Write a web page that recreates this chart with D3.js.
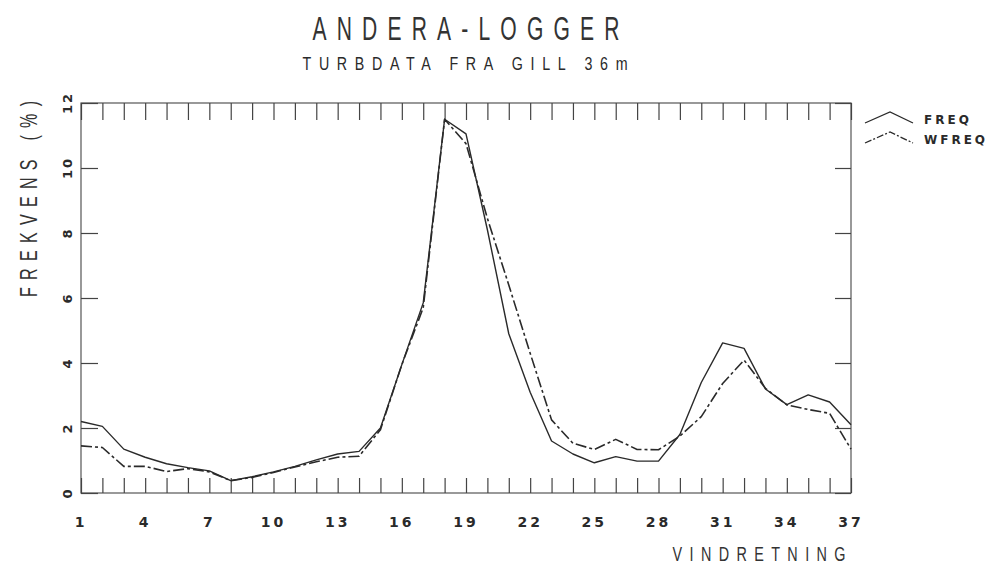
<!DOCTYPE html>
<html>
<head>
<meta charset="utf-8">
<script src="https://cdn.jsdelivr.net/npm/d3@7"></script>
<style>
  html, body { margin: 0; padding: 0; background: #fff; }
  svg { display: block; }
</style>
</head>
<body>
<svg id="chart" width="987" height="565"></svg>
<script>
// ---- data ----
const direction = [1,2,3,4,5,6,7,8,9,10,11,12,13,14,15,16,17,18,19,20,21,22,23,24,25,26,27,28,29,30,31,32,33,34,35,36,37];
const freq  = [2.2,2.05,1.35,1.1,0.9,0.78,0.68,0.38,0.5,0.65,0.82,1.02,1.2,1.28,2.0,3.95,5.85,11.5,11.05,8.1,4.9,3.1,1.6,1.2,0.93,1.12,0.98,0.98,1.8,3.4,4.62,4.45,3.2,2.72,3.02,2.8,2.1];
const wfreq = [1.45,1.4,0.82,0.82,0.66,0.75,0.65,0.38,0.48,0.63,0.8,0.96,1.1,1.13,1.95,3.95,5.7,11.5,10.75,8.45,6.4,4.3,2.25,1.53,1.34,1.65,1.34,1.33,1.75,2.35,3.37,4.09,3.22,2.71,2.57,2.45,1.35];
const xTickLabels = [1,4,7,10,13,16,19,22,25,28,31,34,37];
const yTickLabels = [0,2,4,6,8,10,12];
const seriesNames = ["FREQ","WFREQ"];

const svg = d3.select("#chart");
const ink = "#2a2a2a";

const x = d3.scaleLinear().domain([1,37]).range([81,851]);
const y = d3.scaleLinear().domain([0,12]).range([493,103]);

// frame
svg.append("rect")
  .attr("x", x(1)).attr("y", y(12))
  .attr("width", x(37)-x(1)).attr("height", y(0)-y(12))
  .attr("fill","none").attr("stroke","#555").attr("stroke-width",1.2);

// ticks via d3 axes (inward)
const noLabel = () => "";
const axB = svg.append("g").attr("transform",`translate(0,${y(0)})`)
  .call(d3.axisBottom(x).tickValues(direction).tickSize(-15).tickFormat(noLabel));
const axT = svg.append("g").attr("transform",`translate(0,${y(12)})`)
  .call(d3.axisTop(x).tickValues(direction).tickSize(-17).tickFormat(noLabel));
const axL = svg.append("g").attr("transform",`translate(${x(1)},0)`)
  .call(d3.axisLeft(y).tickValues(yTickLabels).tickSize(-17).tickFormat(noLabel));
const axR = svg.append("g").attr("transform",`translate(${x(37)},0)`)
  .call(d3.axisRight(y).tickValues(yTickLabels).tickSize(-16).tickFormat(noLabel));
[axB,axT,axL,axR].forEach(g => {
  g.select(".domain").remove();
  g.selectAll(".tick line").attr("stroke","#444").attr("stroke-width",1.2);
});

// x tick labels
svg.append("g").selectAll("text").data(xTickLabels).join("text")
  .attr("x", d => x(d)).attr("y", 527)
  .attr("text-anchor","middle")
  .attr("font-family","DejaVu Sans").attr("font-weight","bold")
  .attr("font-size",14).attr("letter-spacing",3).attr("fill",ink)
  .text(d => d);

// y tick labels (rotated)
svg.append("g").selectAll("text").data(yTickLabels).join("text")
  .attr("transform", d => `translate(72,${y(d)}) rotate(-90)`)
  .attr("text-anchor","middle")
  .attr("font-family","DejaVu Sans").attr("font-weight","bold")
  .attr("font-size",13).attr("letter-spacing",2).attr("fill",ink)
  .text(d => d);

// lines
const line = vals => d3.line().x((d,i) => x(direction[i])).y(d => y(d))(vals);
svg.append("path").attr("d", line(freq))
  .attr("fill","none").attr("stroke",ink).attr("stroke-width",1.4).attr("stroke-linejoin","round");
svg.append("path").attr("d", line(wfreq))
  .attr("fill","none").attr("stroke",ink).attr("stroke-width",1.6)
  .attr("stroke-dasharray","11,3,3,3").attr("stroke-linejoin","round");

// condensed, spaced text helper (plotter-like lettering)
function spacedText(tx, ty, rot, size, sx, width, str, color) {
  const g = svg.append("g").attr("transform", `translate(${tx},${ty}) rotate(${rot}) scale(${sx},1)`);
  g.append("text").attr("x",0).attr("y",0).attr("text-anchor","middle")
    .attr("font-family","Liberation Sans").attr("font-size",size).attr("fill",color)
    .attr("textLength", width/sx).attr("lengthAdjust","spacing")
    .text(str);
}

// titles
spacedText(466, 40, 0, 34, 0.62, 307, "ANDERA-LOGGER", "#333");
spacedText(465, 70, 0, 19, 0.75, 325, "TURBDATA FRA GILL 36m", "#2a2a2a");

// axis titles
spacedText(37, 199, -90, 23, 0.7, 196, "FREKVENS (%)", "#333");
spacedText(759, 561, 0, 20, 0.72, 173, "VINDRETNING", "#333");

// legend
const legY = [123, 143];
const legDash = [null, "7,2,2,2"];
seriesNames.forEach((name,i) => {
  svg.append("path")
    .attr("d", `M865,${legY[i]} L890,${legY[i]-11} L913,${legY[i]}`)
    .attr("fill","none").attr("stroke",ink).attr("stroke-width",1.3)
    .attr("stroke-dasharray", legDash[i]);
  svg.append("text").attr("x",924).attr("y",legY[i]+1)
    .attr("font-family","DejaVu Sans").attr("font-weight","bold")
    .attr("font-size",12).attr("letter-spacing",3).attr("fill",ink)
    .text(name);
});
</script>
</body>
</html>
